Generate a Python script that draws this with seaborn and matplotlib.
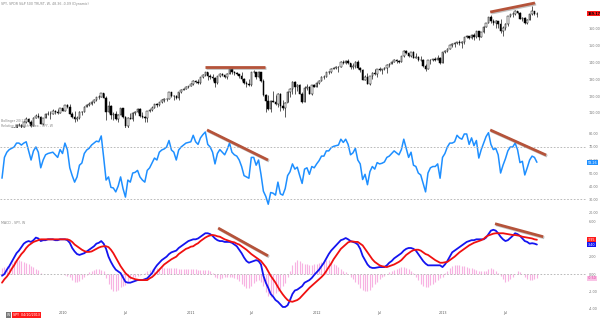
import numpy as np
import pandas as pd
import matplotlib
matplotlib.use("Agg")
import matplotlib.pyplot as plt
import matplotlib.patheffects as pe
from matplotlib.ticker import FormatStrFormatter
import seaborn as sns

# weekly SPY, first week 2009-07-10
first_open = 89.6
closes = [87.9, 94.0, 97.7, 98.8, 101.3, 100.4, 103.1, 103.0, 101.8, 104.8, 106.7, 104.5, 102.5, 107.3, 108.4, 107.7, 103.6, 106.9, 109.6, 109.4, 109.4, 111.0, 110.8, 110.2, 112.9, 111.4,
          114.6, 113.6, 109.2, 107.4, 106.7, 107.0, 110.4, 110.7, 113.8, 114.8, 115.4, 116.5, 117.8, 119.6, 119.4, 121.8, 118.8, 110.4, 113.9, 108.8, 109.4, 106.6, 109.0, 112.7, 107.9, 102.2, 107.3, 106.6, 110.1, 110.3, 112.4, 108.3, 107.5, 106.9, 110.9, 111.5, 112.9, 115.2, 114.6, 116.5, 117.7, 118.4, 118.5, 122.3, 120.0, 119.9, 118.8, 122.4, 123.8, 124.3, 125.6, 125.8,
          127.0, 129.3, 128.4, 127.7, 131.2, 132.9, 134.4, 132.0, 131.6, 130.8, 127.8, 131.9, 133.2, 132.5, 131.7, 133.5, 136.4, 134.2, 133.6, 133.2, 132.2, 130.4, 127.6, 127.1, 126.8, 134.4, 134.4, 131.4, 134.2, 128.9, 120.7, 117.2, 112.2, 117.2, 116.7, 115.4, 121.3, 113.9, 113.2, 116.0, 122.5, 124.4, 128.6, 125.6, 126.7, 121.6, 116.6, 125.0, 125.6, 121.6, 126.4, 125.5,
          127.7, 129.1, 131.5, 131.6, 134.4, 134.4, 136.3, 136.9, 137.3, 137.6, 140.3, 139.6, 140.8, 139.8, 137.1, 137.9, 140.4, 136.8, 135.7, 129.7, 131.7, 127.5, 132.0, 134.1, 133.1, 136.1, 135.5, 135.9, 136.5, 138.6, 139.4, 140.6, 141.8, 141.2, 140.5, 143.8, 146.9, 145.5, 143.9, 146.1, 142.9, 143.4, 141.6, 141.3, 138.1, 136.4, 141.4, 141.5, 142.0, 141.6, 143.0, 140.0,
          146.4, 147.1, 148.3, 150.3, 151.2, 151.8, 152.1, 151.9, 152.1, 155.4, 156.0, 154.9, 156.7, 155.2, 158.8, 155.5, 158.2, 161.4, 163.4, 166.9, 164.7, 163.5, 164.8, 163.2, 158.9, 160.4, 162.9, 167.5, 169.0, 168.9, 170.9, 169.3, 166.1, 166.6, 163.7, 165.5, 168.9, 170.7, 169.1, 169.17]
highs = [90.1, 94.3, 97.9, 99.4, 101.6, 101.6, 103.4, 104.0, 103.2, 105.0, 107.5, 107.3, 106.0, 107.5, 109.4, 110.0, 108.3, 107.3, 110.1, 111.0, 111.0, 112.1, 111.6, 112.2, 113.0, 113.2,
         114.9, 115.1, 115.1, 110.5, 111.0, 108.3, 111.2, 111.2, 114.1, 115.1, 116.4, 117.4, 118.1, 119.7, 121.0, 122.1, 122.1, 120.2, 117.2, 115.0, 110.6, 111.3, 109.5, 113.0, 113.2, 108.1, 107.8, 110.0, 110.5, 111.3, 113.0, 113.0, 110.4, 108.0, 111.2, 112.2, 113.9, 115.4, 115.7, 116.7, 118.4, 118.8, 119.0, 122.6, 122.7, 120.7, 120.7, 122.6, 124.1, 124.8, 125.9, 126.3,
         127.7, 129.4, 129.5, 130.1, 131.3, 133.1, 134.7, 134.5, 133.2, 133.0, 131.2, 132.2, 133.6, 133.7, 132.6, 134.0, 136.7, 137.2, 134.8, 134.7, 133.4, 134.3, 130.6, 128.8, 130.0, 134.5, 135.7, 133.9, 135.1, 134.5, 130.3, 121.3, 121.0, 117.5, 123.3, 120.6, 122.1, 122.1, 117.7, 116.5, 122.8, 124.6, 129.2, 129.0, 127.4, 127.3, 122.5, 125.8, 127.4, 126.1, 126.6, 127.2,
         128.4, 129.5, 131.9, 132.5, 134.6, 135.1, 136.5, 137.5, 138.1, 138.0, 140.7, 141.5, 141.4, 142.2, 140.0, 139.8, 140.7, 141.3, 137.6, 136.3, 132.5, 133.6, 132.1, 134.4, 136.3, 136.3, 137.5, 136.2, 137.6, 138.9, 139.9, 140.7, 142.1, 142.1, 141.6, 144.1, 147.3, 147.6, 146.0, 146.4, 146.7, 146.0, 143.8, 143.7, 142.0, 139.1, 141.5, 142.4, 142.4, 143.6, 144.4, 143.5,
         146.6, 147.5, 148.8, 150.6, 151.4, 152.1, 152.5, 153.3, 152.7, 155.5, 156.2, 156.0, 157.1, 157.4, 159.0, 159.0, 158.5, 161.6, 163.5, 167.0, 168.6, 166.2, 165.4, 165.0, 165.8, 161.5, 163.5, 167.9, 169.2, 169.9, 171.6, 170.9, 169.9, 167.0, 167.0, 166.0, 169.2, 173.6, 170.8, 169.9]
lows = [86.9, 87.5, 93.7, 97.0, 97.9, 99.6, 97.8, 102.4, 99.5, 101.6, 104.3, 104.2, 101.9, 102.2, 106.9, 107.3, 103.3, 102.9, 106.8, 108.9, 106.7, 109.2, 109.3, 109.7, 109.9, 111.4,
        111.2, 113.2, 109.2, 107.2, 104.6, 105.3, 106.5, 108.8, 110.7, 113.3, 114.2, 115.0, 116.1, 117.4, 118.3, 119.3, 118.7, 106.0, 109.9, 106.4, 106.0, 105.9, 104.4, 108.8, 106.9, 101.1, 101.1, 106.3, 105.1, 108.6, 110.2, 107.6, 106.9, 104.4, 104.9, 110.4, 111.3, 112.9, 113.7, 114.0, 115.9, 116.3, 117.1, 118.1, 119.6, 117.6, 118.5, 117.5, 121.9, 123.4, 124.1, 125.1,
        125.8, 126.6, 127.7, 127.4, 127.5, 130.8, 132.3, 129.8, 130.1, 128.9, 125.3, 127.3, 131.6, 132.1, 130.8, 130.0, 133.4, 133.3, 132.6, 132.6, 130.6, 129.2, 127.1, 125.5, 126.1, 126.2, 133.7, 130.1, 130.6, 128.7, 119.9, 110.3, 111.9, 110.8, 116.4, 114.8, 113.7, 111.4, 112.0, 107.4, 116.5, 119.6, 121.3, 121.2, 122.9, 121.1, 115.9, 116.3, 123.4, 121.2, 121.0, 125.2,
        125.3, 127.3, 128.9, 130.5, 131.3, 133.5, 133.7, 136.0, 136.2, 134.3, 137.4, 139.0, 139.1, 139.3, 136.1, 136.1, 136.8, 136.4, 134.4, 129.4, 129.6, 127.1, 126.7, 130.3, 132.4, 131.7, 135.2, 133.5, 135.3, 133.8, 137.2, 139.0, 140.3, 139.8, 139.7, 140.1, 143.2, 145.2, 143.3, 143.5, 142.7, 142.7, 140.8, 141.0, 137.5, 134.8, 136.3, 139.3, 140.9, 141.2, 141.4, 139.1,
        139.8, 145.6, 146.6, 148.1, 149.5, 149.1, 151.1, 150.4, 148.7, 150.8, 154.9, 153.9, 154.2, 153.6, 154.9, 153.6, 155.1, 157.6, 161.0, 163.3, 163.5, 162.6, 160.6, 160.8, 157.7, 155.7, 159.7, 161.9, 167.1, 167.0, 168.3, 168.9, 165.8, 164.5, 162.9, 163.0, 165.4, 168.4, 168.5, 166.9]

rsi = [46, 62, 66, 68, 69, 70, 73, 73, 71.5, 73, 74, 67, 60, 67, 70, 66, 54, 60, 64, 65, 65.5, 66, 64, 62, 68, 65,
       73, 68, 54, 48, 43, 47, 56, 57.7, 65, 67.7, 69, 71.5, 73, 74.5, 74, 78.5, 62, 44.6, 47, 39, 38.5, 35.5, 40, 47, 38, 31.5, 44.6, 43, 50, 50.5, 52, 47, 44.6, 43, 52, 54, 57.7, 61.5, 60, 66, 67.7, 68.5, 70, 75, 67.7, 66, 60, 67.7, 70, 71.5, 73, 73.5,
       74, 79, 74, 72, 77, 79.5, 81.5, 72, 70, 66, 57, 65, 68, 66, 64, 68, 73, 66, 64, 63, 60, 55, 48, 47, 46, 62, 62, 56, 60, 49, 36, 32, 26, 35, 34.5, 33, 43, 34, 33, 38, 48, 51, 57, 53, 54.5, 48, 42, 53, 54, 49, 55, 54,
       57, 59.5, 63, 63, 67, 67, 69.5, 70.5, 71, 71.5, 76, 73.5, 76, 72, 64, 65.5, 69, 60, 57, 45, 49, 41, 51, 55, 53, 58, 57, 57.5, 58.5, 62, 63, 65, 67, 65.5, 64, 68, 76, 69, 62, 66, 56, 55, 50, 48.5, 42, 35.5, 50, 54, 55, 55, 57, 46,
       62, 65, 70, 73, 73, 74, 79, 77, 76, 80, 80, 72, 77, 71, 75, 61.5, 68, 73, 78, 81, 72, 68, 69, 64, 50, 56, 61, 67, 70, 70, 73, 68, 58, 59, 48.5, 54, 60, 63, 62, 58.26]

macd = [-0.2, 0.0, 0.5, 0.9, 1.4, 1.9, 2.4, 2.7, 3.1, 3.5, 3.7, 3.8, 3.7, 3.9, 4.2, 4.1, 3.8, 3.9, 3.9, 4.0, 4.0, 4.0, 3.9, 3.9, 4.0, 4.0,
        4.0, 3.9, 3.6, 3.0, 2.6, 2.3, 2.2, 2.3, 2.4, 2.6, 2.8, 3.0, 3.2, 3.5, 3.6, 3.8, 3.5, 2.9, 2.0, 1.4, 0.9, 0.5, 0.3, 0.1, -0.4, -0.9, -1.0, -1.0, -0.9, -0.8, -0.7, -0.7, -0.7, -0.6, -0.5, -0.2, 0.1, 0.6, 1.0, 1.3, 1.6, 1.8, 2.0, 2.3, 2.5, 2.6, 2.7, 3.0, 3.2, 3.4, 3.6, 3.8,
        3.9, 4.0, 4.0, 4.1, 4.3, 4.5, 4.7, 4.7, 4.6, 4.4, 4.1, 3.9, 3.8, 3.8, 3.7, 3.7, 3.7, 3.6, 3.4, 3.2, 2.8, 2.4, 1.9, 1.5, 1.3, 1.4, 1.5, 1.6, 1.5, 1.1, -0.2, -1.0, -1.6, -2.3, -2.6, -3.0, -3.2, -3.5, -3.8, -3.8, -3.6, -3.0, -2.3, -1.9, -1.8, -1.6, -1.4, -1.0, -0.85, -0.7, -0.45, -0.1,
        0.2, 0.5, 0.9, 1.3, 1.8, 2.3, 2.7, 3.0, 3.3, 3.6, 3.9, 4.0, 4.15, 4.0, 3.8, 3.7, 3.6, 3.4, 2.9, 2.1, 1.6, 1.1, 0.8, 0.7, 0.7, 0.75, 0.8, 0.8, 0.8, 1.0, 1.3, 1.5, 1.8, 2.0, 2.2, 2.4, 2.7, 2.9, 3.0, 3.0, 2.9, 2.7, 2.3, 1.9, 1.5, 1.2, 1.0, 1.0, 1.0, 1.0, 1.0, 1.0,
        0.8, 1.1, 1.5, 2.0, 2.5, 2.7, 2.9, 3.1, 3.3, 3.5, 3.7, 3.8, 3.9, 3.9, 4.0, 4.0, 4.0, 4.0, 4.2, 4.6, 5.0, 5.1, 5.0, 4.7, 4.3, 4.0, 3.8, 3.9, 4.15, 4.4, 4.7, 4.6, 4.4, 4.1, 3.8, 3.7, 3.5, 3.55, 3.5, 3.40]
signal = [-1.0, -0.6, -0.3, 0.1, 0.6, 1.0, 1.5, 1.9, 2.3, 2.6, 3.0, 3.3, 3.5, 3.7, 3.8, 3.9, 4.0, 4.0, 4.0, 4.0, 4.0, 4.0, 4.0, 4.0, 4.0, 4.0,
          4.0, 4.0, 3.9, 3.7, 3.4, 3.2, 3.0, 2.8, 2.65, 2.55, 2.55, 2.6, 2.75, 2.9, 3.05, 3.15, 3.2, 3.2, 3.1, 2.8, 2.4, 1.9, 1.4, 0.9, 0.5, 0.1, -0.15, -0.4, -0.5, -0.6, -0.65, -0.7, -0.7, -0.7, -0.7, -0.5, -0.35, -0.1, 0.2, 0.5, 0.8, 1.1, 1.3, 1.5, 1.7, 1.85, 2.0, 2.3, 2.5, 2.7, 2.9, 3.0,
          3.15, 3.2, 3.4, 3.55, 3.8, 4.0, 4.2, 4.35, 4.45, 4.5, 4.45, 4.35, 4.3, 4.15, 4.0, 3.9, 3.8, 3.7, 3.65, 3.5, 3.4, 3.2, 3.0, 2.8, 2.55, 2.3, 2.1, 1.9, 1.7, 1.5, 1.15, 0.8, 0.3, -0.2, -0.6, -1.0, -1.5, -1.95, -2.35, -2.7, -3.0, -3.15, -3.2, -3.1, -3.0, -2.8, -2.5, -2.2, -1.9, -1.6, -1.35, -1.1,
          -0.85, -0.6, -0.35, -0.05, 0.35, 0.8, 1.2, 1.7, 2.1, 2.5, 2.9, 3.15, 3.4, 3.65, 3.75, 3.75, 3.7, 3.7, 3.5, 3.3, 2.9, 2.5, 2.1, 1.7, 1.4, 1.2, 1.0, 0.9, 0.85, 0.8, 0.9, 1.0, 1.1, 1.25, 1.4, 1.6, 1.9, 2.2, 2.4, 2.6, 2.75, 2.8, 2.8, 2.7, 2.5, 2.3, 2.2, 2.0, 1.8, 1.6, 1.45, 1.3,
          1.3, 1.35, 1.4, 1.6, 1.8, 2.0, 2.25, 2.5, 2.7, 2.9, 3.1, 3.3, 3.45, 3.6, 3.7, 3.8, 3.9, 4.05, 4.3, 4.45, 4.55, 4.65, 4.7, 4.7, 4.7, 4.7, 4.65, 4.6, 4.55, 4.5, 4.5, 4.45, 4.4, 4.3, 4.25, 4.2, 4.15, 4.1, 4.0, 3.95]
hist = [0.7, 0.8, 0.9, 1.1, 1.3, 1.5, 1.6, 1.6, 1.5, 1.4, 1.3, 1.2, 0.9, 0.8, 0.6, 0.5,
        0.1, 0.0, -0.05, 0.05, 0.0, -0.05, 0.0, 0.0, -0.05, 0.0, -0.1, -0.2,
        -0.4, -0.7, -0.9, -0.9, -0.8, -0.6, -0.4, -0.1, 0.2, 0.4, 0.5, 0.6, 0.6, 0.5, 0.3,
        -0.5, -1.2, -1.7, -2.0, -2.0, -1.8, -1.5, -1.4, -1.3, -0.9, -0.6, -0.4, -0.3, -0.2, -0.1, 0.0, 0.1,
        0.3, 0.5, 0.6, 0.7, 0.7, 0.7, 0.8, 0.7, 0.7, 0.7, 0.7, 0.7, 0.65, 0.6, 0.6, 0.6, 0.6, 0.6, 0.6, 0.55, 0.55, 0.5, 0.5,
        0.5, 0.5, 0.45, 0.3, 0.1,
        -0.3, -0.5, -0.6, -0.5, -0.4, -0.3, -0.3, -0.35, -0.5, -0.6, -0.8,
        -1.1, -1.4, -1.6, -1.6, -1.4, -1.0, -0.8, -0.7, -0.9, -1.4,
        -2.1, -2.5, -2.6, -2.4, -2.2, -2.0, -1.7, -1.4, -1.0, -0.4,
        0.4, 1.0, 1.4, 1.6, 1.5, 1.3, 1.2, 1.1, 1.0, 1.0, 1.1, 1.2, 1.3, 1.4, 1.5, 1.6, 1.6, 1.4, 1.2, 1.0, 0.8, 0.6, 0.4, 0.2, 0.0,
        -0.3, -0.6, -0.9, -1.2, -1.6, -1.9, -2.0, -2.0, -1.8, -1.5, -1.2, -0.9, -0.6, -0.4, -0.2, 0.0,
        0.2, 0.4, 0.5, 0.6, 0.7, 0.8, 0.8, 0.7, 0.6, 0.4, 0.1,
        -0.3, -0.7, -1.1, -1.4, -1.5, -1.5, -1.3, -1.1, -0.9, -0.7, -0.5, -0.4,
        0.1, 0.4, 0.7, 0.9, 1.0, 1.0, 1.0, 0.9, 0.9, 0.8, 0.7, 0.7, 0.6, 0.5, 0.4, 0.3, 0.3, 0.4, 0.6, 0.7, 0.6, 0.4, 0.1, -0.2,
        -0.6, -0.9, -0.8, -0.6, -0.3, 0.0, 0.3, 0.25, 0.0,
        -0.4, -0.6, -0.7, -0.7, -0.6, -0.50]

# hand-drawn trend lines (week index, value) -> (week index, value)
price_trends = [(83.9, 137.4, 108.7, 137.4), (201.7, 170.1, 220.2, 175.5)]
rsi_trends = [(84.7, 83.1, 109.9, 60.0), (201.7, 83.1, 224.8, 63.8)]
macd_trends = [(89.3, 5.3, 109.9, 2.1), (203.7, 5.8, 223.6, 4.3)]

title = "SPY, SPDR S&P 500 TRUST, W, 48.36 -0.09 (Dynamic)"

sns.set_style("white")
plt.rcParams["font.family"] = ["DejaVu Sans"]

n = min(len(closes), len(highs), len(lows))
c = np.array(closes[:n])
h = np.array(highs[:n])
l = np.array(lows[:n])
o = np.r_[first_open, c[:-1]]
x = np.arange(n)
weeks = pd.date_range("2009-07-10", periods=max(n, len(rsi), len(macd)), freq="W-FRI")

W, H = 600, 318
fig = plt.figure(figsize=(6, 3.18), dpi=100)


def box(top, bottom):
    return [0, 1 - bottom / H, 587 / W, (bottom - top) / H]


ax_p = fig.add_axes(box(0, 128))
ax_r = fig.add_axes(box(128, 214), sharex=ax_p)
ax_m = fig.add_axes(box(214, 310), sharex=ax_p)
for ax in (ax_p, ax_r, ax_m):
    ax.patch.set_alpha(0)
    for s in ax.spines.values():
        s.set_visible(False)
    ax.yaxis.tick_right()
    ax.tick_params(axis="y", length=0, pad=1, labelsize=2.4, labelcolor="#777777")
    ax.yaxis.set_major_formatter(FormatStrFormatter("%.2f"))
    ax.grid(False)

trend_kw = dict(color="#b5533a", lw=2.0, solid_capstyle="butt", zorder=6,
                path_effects=[pe.SimpleLineShadow(offset=(0.8, -0.8), shadow_color="#888888", alpha=0.5), pe.Normal()])


def side_label(ax, val, fc, tc, bold=False, dy=0):
    ax.annotate(f"{val:.2f}", xy=(1, val), xycoords=("axes fraction", "data"), xytext=(0.6, dy),
                textcoords="offset points", ha="left", va="center", fontsize=2.4, color=tc,
                fontweight="bold" if bold else "normal",
                bbox=dict(boxstyle="square,pad=0.2", fc=fc, ec="none"), zorder=8)


# candles
up = c >= o
ax_p.vlines(x, l, h, color="black", lw=0.45, zorder=2)
ax_p.bar(x[up], (c - o)[up], bottom=o[up], width=0.62, color="white", edgecolor="black", linewidth=0.35, zorder=3)
ax_p.bar(x[~up], (c - o)[~up], bottom=o[~up], width=0.62, color="black", edgecolor="black", linewidth=0.35, zorder=3)
for x0, y0, x1, y1 in price_trends:
    ax_p.plot([x0, x1], [y0, y1], **trend_kw)
ax_p.set_ylim(101.07, 177.26)
ax_p.set_yticks([110, 120, 130, 140, 150, 160])
ax_p.set_xlim(-0.83, 241.7)
side_label(ax_p, c[-1], "#ff1a1a", "black", bold=True)

# RSI
sns.lineplot(x=np.arange(len(rsi)), y=rsi, ax=ax_r, color="#1e8fff", lw=1.1)
for lvl in (70, 30):
    ax_r.axhline(lvl, color="#b0b0b0", lw=0.6, ls=(0, (2, 2)))
for x0, y0, x1, y1 in rsi_trends:
    ax_r.plot([x0, x1], [y0, y1], **trend_kw)
ax_r.set_ylim(18.5, 84.6)
ax_r.set_yticks([20, 30, 40, 50, 60, 70, 80])
side_label(ax_r, rsi[-1], "#1e8fff", "white", dy=-0.4)

# MACD
ax_m.vlines(np.arange(len(hist)), 0, hist, color="#f7b2e2", lw=0.85, zorder=1)
ax_m.axhline(0, color="#b0b0b0", lw=0.6, ls=(0, (2, 2)), zorder=1.5)
sns.lineplot(x=np.arange(len(macd)), y=macd, ax=ax_m, color="#1414f0", lw=1.3, zorder=3)
sns.lineplot(x=np.arange(len(signal)), y=signal, ax=ax_m, color="#f01010", lw=1.3, zorder=4)
for x0, y0, x1, y1 in macd_trends:
    ax_m.plot([x0, x1], [y0, y1], **trend_kw)
ax_m.set_ylim(-4.15, 6.92)
ax_m.set_yticks([-4, -2, 0, 2, 6])
side_label(ax_m, signal[-1], "#ff1a1a", "white")
side_label(ax_m, macd[-1], "#1414f0", "white")
side_label(ax_m, hist[-1], "#f9c4e6", "#e0309a")

# x ticks at January / July
tick_pos, tick_lab = [], []
for i in range(1, n):
    if weeks[i].month != weeks[i - 1].month and weeks[i].month in (1, 7):
        tick_pos.append(i)
        tick_lab.append(str(weeks[i].year) if weeks[i].month == 1 else "Jul")
ax_m.set_xticks(tick_pos)
ax_m.set_xticklabels(tick_lab)
ax_m.tick_params(axis="x", length=0, pad=0.8, labelsize=2.4, labelcolor="#555555")
ax_p.tick_params(axis="x", labelbottom=False, length=0)
ax_r.tick_params(axis="x", labelbottom=False, length=0)
for ax in (ax_p, ax_r, ax_m):
    ax.set_xlabel("")
    ax.set_ylabel("")

# small header / indicator captions
fig.text(1 / W, 1 - 4 / H, title, fontsize=2.3, color="#888888", va="center", ha="left")
fig.text(1 / W, 1 - 121 / H, "Bollinger 20(2)", fontsize=2.3, color="#888888", va="center", ha="left")
fig.text(1 / W, 1 - 126 / H, "Relative Strength Index - SPY, W", fontsize=2.3, color="#888888", va="center", ha="left")
fig.text(1 / W, 1 - 223 / H, "MACD - SPY, W", fontsize=2.3, color="#888888", va="center", ha="left")
fig.text(7 / W, 1 - 315 / H, "W", fontsize=2.3, color="white", va="center", ha="left",
         bbox=dict(boxstyle="square,pad=0.2", fc="#777777", ec="none"))
fig.text(13 / W, 1 - 315 / H, "SPY  04/10/2013", fontsize=2.3, color="white", va="center", ha="left",
         bbox=dict(boxstyle="square,pad=0.25", fc="#ff1a1a", ec="none"))

fig.savefig("out.png", dpi=100)
